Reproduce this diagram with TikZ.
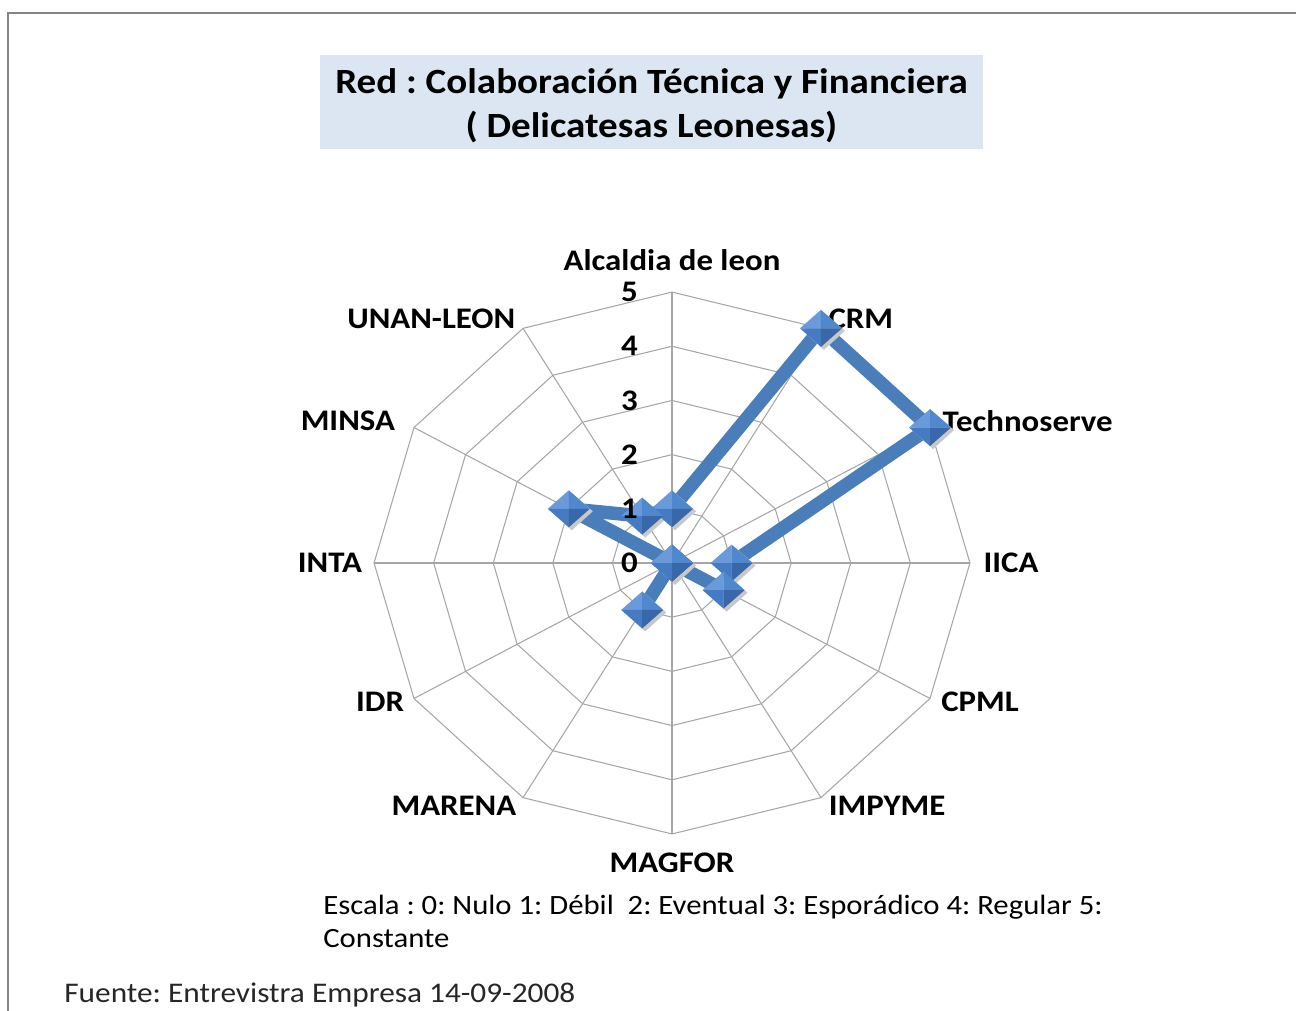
\documentclass[tikz,border=0pt]{standalone}
\usepackage{fontspec}
\setmainfont{Carlito}[FakeStretch=1.1]
\frenchspacing

\definecolor{titlefill}{HTML}{DCE6F2}
\definecolor{gridgray}{HTML}{A6A6A6}
\definecolor{framegray}{HTML}{858585}
\definecolor{serieblue}{HTML}{4A7EBB}
\definecolor{facettl}{HTML}{6A9ADA}
\definecolor{facettr}{HTML}{5088CE}
\definecolor{facetbl}{HTML}{457BC2}
\definecolor{facetbr}{HTML}{3967A8}
\definecolor{markshadow}{HTML}{C8C8C8}

\tikzset{
    gridline/.style={draw=gridgray, line width=0.6pt},
    serieline/.style={draw=serieblue, line width=0.27cm, line join=round},
    axislabel/.style={font=\fontsize{17}{20}\selectfont\bfseries, inner sep=0pt},
    scalelabel/.style={axislabel, anchor=east},
    captext/.style={font=\fontsize{15.9}{18.7}\selectfont, inner sep=0pt, anchor=base west},
    titlebox/.style={fill=titlefill, minimum width=13.26cm, minimum height=1.9cm, inner sep=0pt},
    titletext/.style={align=center, inner sep=0pt, font=\fontsize{20.2}{24.9}\selectfont\bfseries}
}

\newcommand{\markshade}[1]{%
    \fill[markshadow, shift={(#1)}] (0.06cm,-0.43cm) -- (0.48cm,-0.05cm) -- (0.06cm,0.32cm) -- (-0.36cm,-0.05cm) -- cycle;}

\newcommand{\radarmark}[1]{%
    \begin{scope}[shift={(#1)}]
        \fill[facettl] (0,0) -- (-0.42cm,0) -- (0,0.37cm) -- cycle;
        \fill[facettr] (0,0) -- (0,0.37cm) -- (0.42cm,0) -- cycle;
        \fill[facetbl] (0,0) -- (-0.42cm,0) -- (0,-0.37cm) -- cycle;
        \fill[facetbr] (0,0) -- (0.42cm,0) -- (0,-0.37cm) -- cycle;
    \end{scope}}

\begin{document}
\begin{tikzpicture}[x=0.02cm, y=-0.02cm]
    \useasboundingbox (0,0) rectangle (1296,1011);

    \draw[framegray, line width=0.04cm] (8,1011) -- (8,13) -- (1296,13);

    \node[titlebox] (title) at (651.5,102) {};
    \node[titletext] (titletxt) at (651.5,106) {Red : Colaboración Técnica y Financiera\\( Delicatesas Leonesas)};

    \begin{scope}[shift={(672,563)}, x=1.192cm, y=1.084cm]
        \foreach \r in {1,...,5}
            \draw[gridline] (0:\r) \foreach \a in {30,60,...,330} { -- (\a:\r) } -- cycle;
        \foreach \a in {0,30,...,330}
            \draw[gridline] (0,0) -- (\a:5);

        \node[axislabel] (lalc) at (0,5.58) {Alcaldia de leon};
        \node[axislabel] (lcrm) at (3.17,4.50) {CRM};
        \node[axislabel] (ltec) at (5.97,2.62) {Technoserve};
        \node[axislabel] (liica) at (5.69,0) {IICA};
        \node[axislabel] (lcpml) at (5.17,-2.56) {CPML};
        \node[axislabel] (limp) at (3.61,-4.48) {IMPYME};
        \node[axislabel] (lmag) at (0,-5.54) {MAGFOR};
        \node[axislabel] (lmar) at (-3.66,-4.48) {MARENA};
        \node[axislabel] (lidr) at (-4.90,-2.56) {IDR};
        \node[axislabel] (linta) at (-5.74,0) {INTA};
        \node[axislabel] (lminsa) at (-5.44,2.62) {MINSA};
        \node[axislabel] (lunan) at (-4.04,4.50) {UNAN-LEON};

        \coordinate (alc) at (90:1);
        \coordinate (crm) at (60:5);
        \coordinate (tec) at (30:5);
        \coordinate (iica) at (0:1);
        \coordinate (cpml) at (-30:1);
        \coordinate (imp) at (-60:0);
        \coordinate (mag) at (-90:0);
        \coordinate (mar) at (-120:1);
        \coordinate (idr) at (-150:0);
        \coordinate (inta) at (180:0);
        \coordinate (minsa) at (150:2);
        \coordinate (unan) at (120:1);

        \draw[serieline] (alc) -- (crm) -- (tec) -- (iica) -- (cpml) -- (imp) -- (mag)
            -- (mar) -- (idr) -- (inta) -- (minsa) -- (unan) -- cycle;

        \foreach \p in {alc,crm,tec,iica,cpml,imp,mag,mar,idr,inta,minsa,unan}
            \markshade{\p};
        \foreach \p in {alc,crm,tec,iica,cpml,imp,mag,mar,idr,inta,minsa,unan}
            \radarmark{\p};

        \foreach \k in {0,...,5}
            \node[scalelabel] (s\k) at (-0.57,\k) {\k};
    \end{scope}

    \node[captext] (escala) at (323,914) {Escala : 0: Nulo 1: Débil\ \ 2: Eventual 3: Esporádico 4: Regular 5:};
    \node[captext] (constante) at (323,947) {Constante};
    \node[captext, font=\fontsize{16.2}{19}\selectfont, text=black!85] (fuente) at (64,1002) {Fuente: Entrevistra Empresa 14-09-2008};
\end{tikzpicture}
\end{document}
